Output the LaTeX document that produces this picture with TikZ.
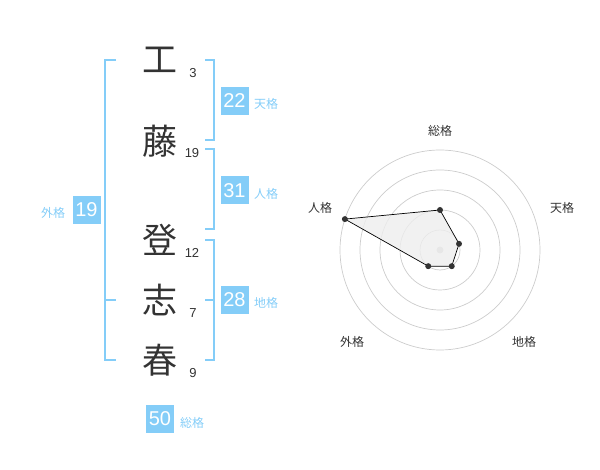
\documentclass[tikz,border=0pt]{standalone}
\usepackage{fontspec}
\usetikzlibrary{calc}
\setmainfont{Liberation Sans}
\newfontfamily\jp{Noto Sans CJK JP}
\definecolor{sky}{HTML}{84CDF8}
\definecolor{ink}{HTML}{333333}
\definecolor{ring}{HTML}{CCCCCC}
\definecolor{areafill}{HTML}{EEEEEE}
\tikzset{
  kanji/.style={font=\jp\fontsize{35}{35}\selectfont, text=ink, inner sep=0pt},
  strokes/.style={font=\fontsize{13}{13}\selectfont, text=ink, inner sep=0pt},
  scorebox/.style={fill=sky, text=white, minimum width=28pt, minimum height=28pt, inner sep=0pt, font=\fontsize{20}{20}\selectfont},
  kakulabel/.style={font=\jp\fontsize{12}{12}\selectfont, text=sky, inner sep=0pt},
  bracketline/.style={draw=sky, line width=1.6pt},
  ringline/.style={draw=ring, line width=0.7pt},
  axislabel/.style={font=\jp\fontsize{12}{12}\selectfont, text=ink, inner sep=0pt},
  dot/.style={circle, fill=ink, inner sep=0pt, minimum size=6pt},
}
\begin{document}
\begin{tikzpicture}[x=1pt,y=-1pt]
\useasboundingbox (0,0) rectangle (600,470);
% kanji
\node[kanji] (k1) at (160,60) {工};
\node[kanji] (k2) at (160,141) {藤};
\node[kanji] (k3) at (160,240) {登};
\node[kanji] (k4) at (160,300) {志};
\node[kanji] (k5) at (160,360) {春};
% stroke counts
\node[strokes] (s1) at (193,73) {3};
\node[strokes] (s2) at (192,153) {19};
\node[strokes] (s3) at (192,253) {12};
\node[strokes] (s4) at (193,313) {7};
\node[strokes] (s5) at (193,373) {9};
% bracket coordinates
\coordinate (lt) at (105,60); \coordinate (lti) at (116,60);
\coordinate (lm) at (105,300); \coordinate (lmi) at (116,300);
\coordinate (lb) at (105,360); \coordinate (lbi) at (116,360);
\draw[bracketline] (lti) -- (lt) -- (lb) -- (lbi);
\draw[bracketline] (lm) -- (lmi);
\coordinate (at) at (214,60); \coordinate (ati) at (205,60);
\coordinate (ab) at (214,140); \coordinate (abi) at (205,140);
\draw[bracketline] (ati) -- (at) -- (ab) -- (abi);
\coordinate (bt) at (214,149); \coordinate (bti) at (205,149);
\coordinate (bb) at (214,229); \coordinate (bbi) at (205,229);
\draw[bracketline] (bti) -- (bt) -- (bb) -- (bbi);
\coordinate (ct) at (214,240); \coordinate (cti) at (205,240);
\coordinate (cm) at (214,300); \coordinate (cmi) at (205,300);
\coordinate (cb) at (214,360); \coordinate (cbi) at (205,360);
\draw[bracketline] (cti) -- (ct) -- (cb) -- (cbi);
\draw[bracketline] (cm) -- (cmi);
% score boxes
\node[scorebox] (ten) at (234.5,101) {22};
\node[kakulabel] (tenl) at (266,104) {天格};
\node[scorebox] (jin) at (234.5,190.5) {31};
\node[kakulabel] (jinl) at (266,194) {人格};
\node[scorebox] (gai) at (86.5,210) {19};
\node[kakulabel] (gail) at (53,213) {外格};
\node[scorebox] (chi) at (234.5,300) {28};
\node[kakulabel] (chil) at (266,303) {地格};
\node[scorebox] (sou) at (160,419) {50};
\node[kakulabel] (soul) at (192,423) {総格};
% radar chart
\coordinate (c) at (440,250);
\foreach \r in {20,40,60,80,100} \draw[ringline] (c) circle[radius=\r];
\fill[ring] (c) circle[radius=3.5];
\coordinate (psou) at ($(c)+(0,-40)$);
\coordinate (pten) at ($(c)+({20*cos(18)},{-20*sin(18)})$);
\coordinate (pchi) at ($(c)+({20*cos(54)},{20*sin(54)})$);
\coordinate (pgai) at ($(c)+({-20*cos(54)},{20*sin(54)})$);
\coordinate (pjin) at ($(c)+({-100*cos(18)},{-100*sin(18)})$);
\draw[fill=areafill, fill opacity=0.8, draw=black, line width=0.7pt] (psou) -- (pten) -- (pchi) -- (pgai) -- (pjin) -- cycle;
\foreach \p in {psou,pten,pchi,pgai,pjin} \node[dot] at (\p) {};
\node[axislabel] (asou) at (440,131) {総格};
\node[axislabel] (aten) at (562,208) {天格};
\node[axislabel] (achi) at (524,342) {地格};
\node[axislabel] (agai) at (352,342) {外格};
\node[axislabel] (ajin) at (320,208) {人格};
\end{tikzpicture}
\end{document}
